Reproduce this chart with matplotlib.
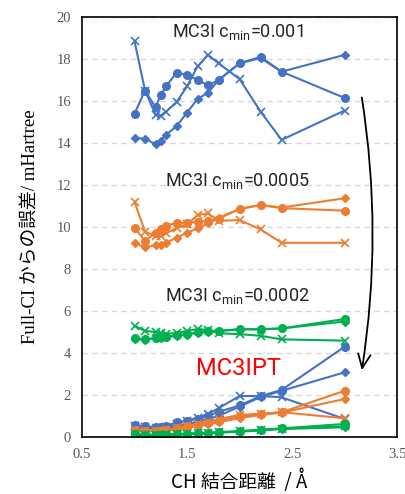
import matplotlib
matplotlib.use("Agg")
import matplotlib.pyplot as plt

x = [1.0, 1.1, 1.2, 1.25, 1.3, 1.4, 1.5, 1.6, 1.7, 1.8, 2.0, 2.2, 2.4, 3.0]

# MC3I cmin=0.001 (blue)
b_circ = [15.4, 16.5, 15.7, 16.3, 16.7, 17.35, 17.25, 17.0, 16.75, 17.0, 17.8, 18.1, 17.4, 16.15]
b_diam = [14.25, 14.2, 13.95, 14.1, 14.4, 14.8, 15.45, 16.1, 16.4, 17.0, 17.8, 18.05, 17.4, 18.2]
b_x = [18.85, 16.5, 15.35, 15.3, 15.5, 15.95, 16.7, 17.65, 18.2, 17.8, 17.05, 15.5, 14.15, 15.55]
# MC3I cmin=0.0005 (orange)
o_circ = [9.97, 9.33, 9.73, 9.9, 10.06, 10.2, 10.2, 10.25, 10.3, 10.4, 10.86, 11.05, 10.9, 10.78]
o_diam = [9.25, 9.03, 9.14, 9.14, 9.25, 9.49, 9.73, 9.94, 10.17, 10.44, 10.86, 11.05, 10.93, 11.37]
o_x = [11.2, 9.78, 9.57, 9.55, 9.7, 9.94, 10.13, 10.57, 10.65, 10.3, 10.33, 9.89, 9.25, 9.25]
# MC3I cmin=0.0002 (green)
g_circ = [4.7, 4.65, 4.72, 4.75, 4.78, 4.85, 4.9, 4.98, 5.05, 5.05, 5.13, 5.13, 5.17, 5.62]
g_diam = [4.68, 4.63, 4.7, 4.73, 4.76, 4.82, 4.88, 4.96, 5.02, 5.05, 5.13, 5.13, 5.17, 5.5]
g_x = [5.3, 5.05, 5.0, 4.95, 4.92, 4.95, 5.05, 5.14, 5.1, 4.94, 4.9, 4.82, 4.65, 4.59]
# MC3IPT
pb_circ = [0.57, 0.5, 0.48, 0.48, 0.52, 0.7, 0.78, 0.85, 1.0, 1.2, 1.5, 1.95, 2.24, 4.3]
pb_diam = [0.45, 0.42, 0.4, 0.4, 0.42, 0.52, 0.62, 0.72, 0.85, 1.0, 1.45, 1.9, 2.2, 3.08]
pb_x = [0.52, 0.48, 0.45, 0.45, 0.48, 0.62, 0.78, 0.92, 1.1, 1.37, 1.95, 1.95, 1.89, 0.86]
po_circ = [0.35, 0.3, 0.3, 0.3, 0.33, 0.42, 0.5, 0.58, 0.66, 0.78, 1.0, 1.1, 1.18, 2.2]
po_diam = [0.3, 0.27, 0.27, 0.27, 0.3, 0.37, 0.45, 0.52, 0.6, 0.7, 0.9, 1.05, 1.16, 1.81]
po_x = [0.33, 0.3, 0.28, 0.28, 0.32, 0.42, 0.52, 0.6, 0.72, 0.85, 1.05, 1.1, 1.18, 0.89]
pg_circ = [0.12, 0.1, 0.1, 0.1, 0.11, 0.13, 0.15, 0.17, 0.19, 0.22, 0.27, 0.34, 0.41, 0.62]
pg_diam = [0.1, 0.08, 0.08, 0.08, 0.09, 0.11, 0.13, 0.15, 0.17, 0.2, 0.25, 0.31, 0.38, 0.46]
pg_x = [0.13, 0.11, 0.11, 0.11, 0.12, 0.14, 0.16, 0.18, 0.2, 0.23, 0.28, 0.34, 0.4, 0.5]

blue, orange, green = "#4472C4", "#ED7D31", "#00B050"

fig = plt.figure(figsize=(4.05, 4.94), dpi=100)
ax = fig.add_axes([0.2025, 0.1154, 0.778, 0.85])

groups = [
    (blue, b_circ, b_diam, b_x),
    (orange, o_circ, o_diam, o_x),
    (green, g_circ, g_diam, g_x),
    (blue, pb_circ, pb_diam, pb_x),
    (orange, po_circ, po_diam, po_x),
    (green, pg_circ, pg_diam, pg_x),
]
for col, yc, yd, yx in groups:
    ax.plot(x, yc, color=col, lw=1.5, marker="o", ms=5.5)
    ax.plot(x, yd, color=col, lw=1.5, marker="D", ms=4.5)
    ax.plot(x, yx, color=col, lw=1.5, marker="x", ms=6, mew=1.2)

ax.set_xlim(0.5, 3.5)
ax.set_ylim(0, 20)
ax.set_xticks([0.5, 1.5, 2.5, 3.5])
ax.set_yticks(range(0, 21, 2))
ax.grid(axis="y", color="#D9D9D9", ls=(0, (4, 3)), lw=1)
ax.set_axisbelow(True)
for s in ax.spines.values():
    s.set_color("black")
    s.set_linewidth(1.2)
ax.tick_params(length=0, labelsize=10.5, labelcolor="#595959", pad=8)
for lab in ax.get_xticklabels() + ax.get_yticklabels():
    lab.set_family("Liberation Serif")

ax.set_ylabel("Full-CI からの誤差/ mHartree", family=["Liberation Serif", "Noto Sans CJK JP"],
              fontsize=13.5, labelpad=12)
ax.set_xlabel("CH 結合距離  / Å", family=["Noto Sans CJK JP", "DejaVu Sans"], fontsize=13.5,
              labelpad=6)

plt.rcParams["mathtext.fontset"] = "custom"
plt.rcParams["mathtext.rm"] = "Roboto"
for val, yy in [("0.001", 19.3), ("0.0005", 12.2), ("0.0002", 6.7)]:
    ax.text(1.98, yy, r"MC3I c$_{\rm min}$=" + val, family="Roboto", fontsize=13,
            ha="center", va="center", color="#262626")
ax.text(1.99, 3.25, "MC3IPT", color="#FF0000", fontsize=17, ha="center", va="center",
        family=["Liberation Sans Narrow", "Roboto"])

ax.annotate("", xy=(3.16, 3.05), xytext=(3.16, 16.3),
            arrowprops=dict(arrowstyle="->,head_length=1.0,head_width=0.45", color="black",
                            lw=1.3, connectionstyle="arc3,rad=-0.08"))

fig.savefig("out.png", dpi=100)
